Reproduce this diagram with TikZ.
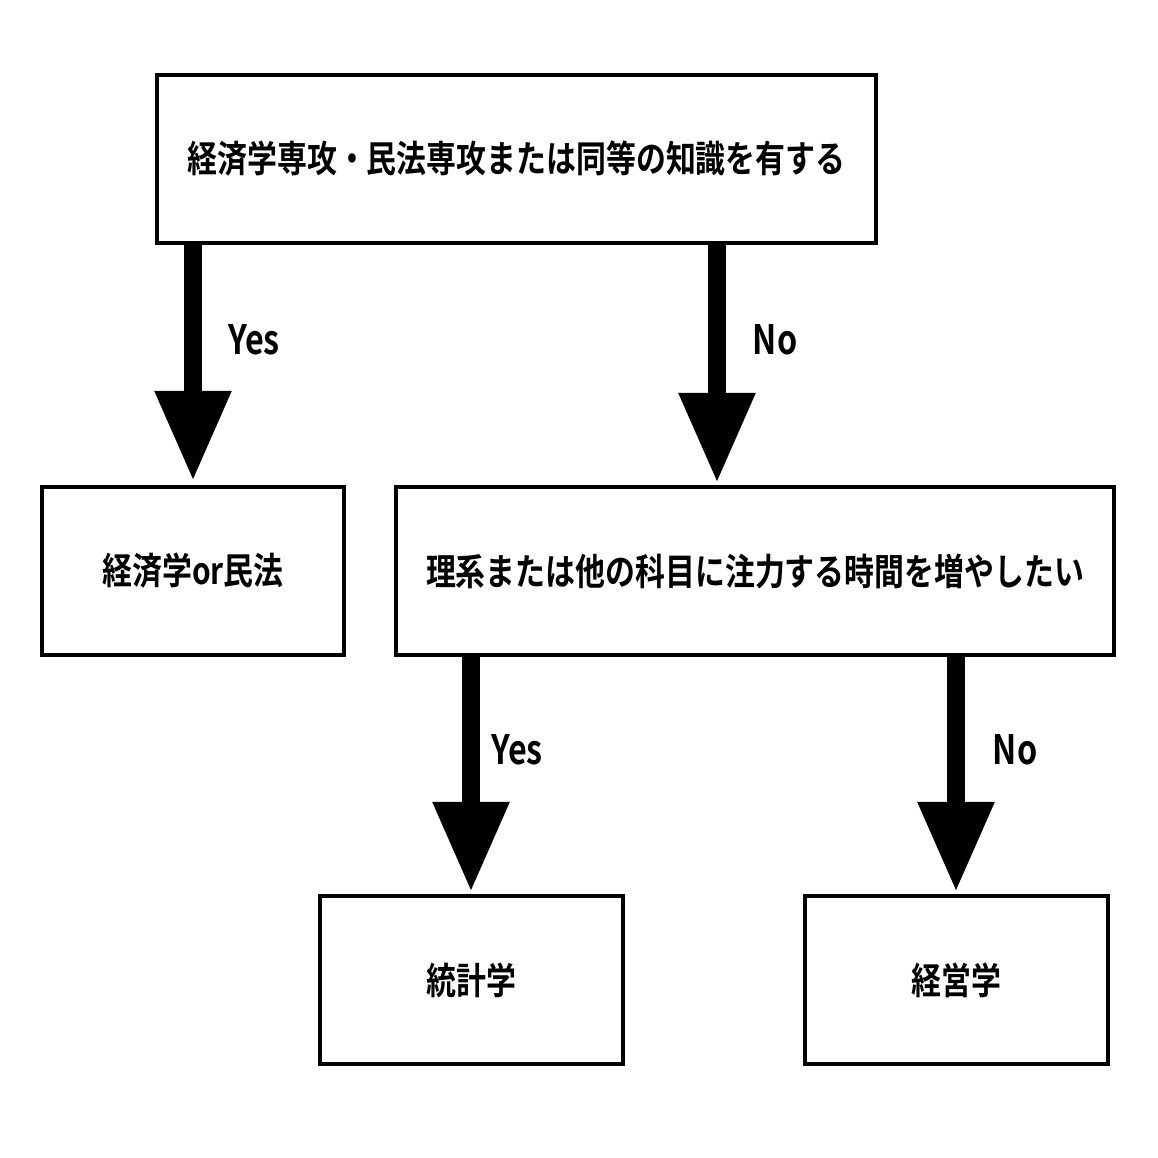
\documentclass[tikz,border=0pt]{standalone}
\usepackage{fontspec}
\usepackage{graphicx}
\newfontfamily\jp{Noto Sans CJK JP Bold}
\usetikzlibrary{positioning,arrows.meta}
\newcommand{\cond}[1]{\scalebox{0.81}[1]{#1}}

\begin{document}
\begin{tikzpicture}[x=0.01cm,y=-0.01cm,
box/.style={rectangle, draw=black, line width=0.04cm, font=\jp\fontsize{10.5}{12}\selectfont, inner sep=0pt},
yesno/.style={font=\jp\fontsize{11.5}{13}\selectfont, xscale=0.8},
bigarrow/.style={line width=0.18cm, -{Triangle[width=0.72cm,length=0.9cm]}, shorten >=0.04cm},
]
\useasboundingbox (0,0) rectangle (1158,1158);
%Nodes
\node[box, minimum width=7.19cm, minimum height=1.68cm] (Q1) at (516.5,159) {\cond{経済学専攻・民法専攻または同等の知識を有する}};
\node[box, minimum width=3.02cm, minimum height=1.68cm] (A1) at (193,571) {\cond{経済学or民法}};
\node[box, minimum width=7.18cm, minimum height=1.68cm] (Q2) at (755,571) {\cond{理系または他の科目に注力する時間を増やしたい}};
\node[box, minimum width=3.03cm, minimum height=1.68cm] (A2) at (471.5,980) {\cond{統計学}};
\node[box, minimum width=3.03cm, minimum height=1.68cm] (A3) at (956.5,980) {\cond{経営学}};

\coordinate (N1) at (717,487);
\coordinate (N2) at (471,896);
\coordinate (N3) at (956,896);

%Lines
\draw[bigarrow] (Q1.south -| A1) -- (A1.north);
\draw[bigarrow] (Q1.south -| N1) -- (N1);
\draw[bigarrow] (Q2.south -| N2) -- (N2);
\draw[bigarrow] (Q2.south -| N3) -- (N3);

%Labels
\node[yesno] (L1) at (254,340) {Yes};
\node[yesno] (L2) at (775,340) {No};
\node[yesno] (L3) at (517,750) {Yes};
\node[yesno] (L4) at (1015,750) {No};
\end{tikzpicture}
\end{document}
